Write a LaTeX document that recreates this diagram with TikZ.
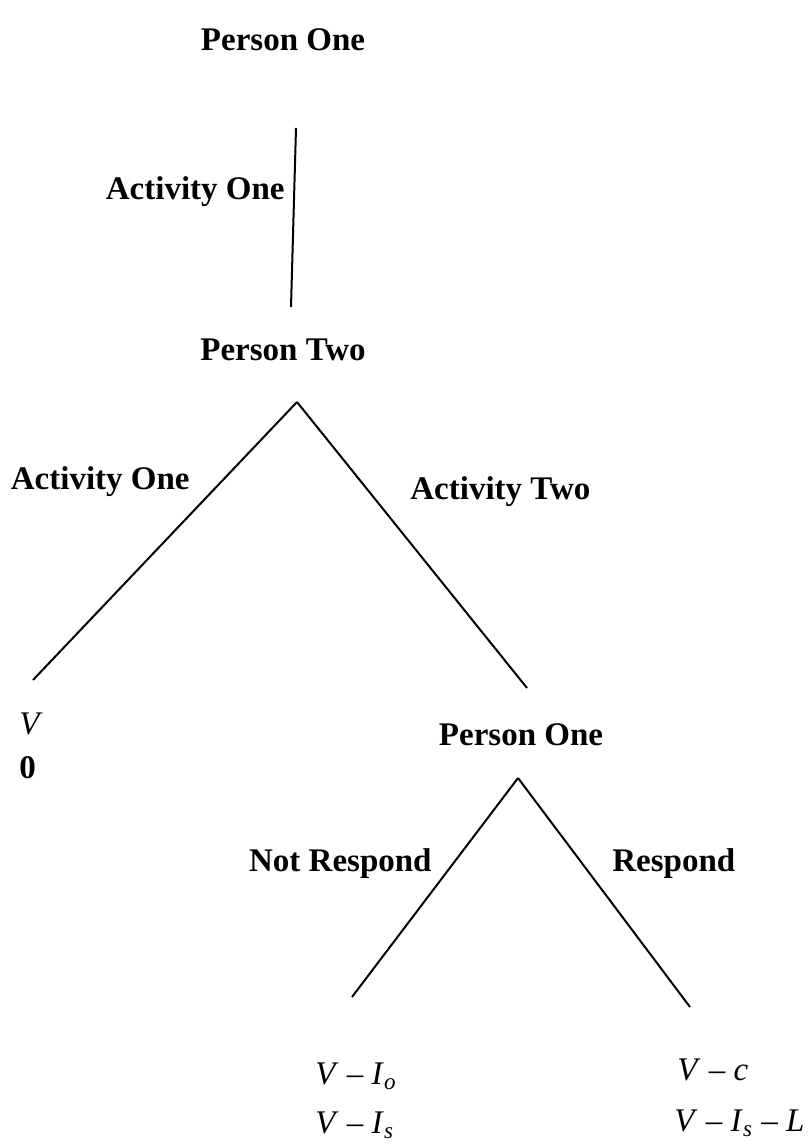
\documentclass[tikz,border=0pt]{standalone}
\usepackage{fontspec}
\setmainfont{Liberation Serif}
\begin{document}
\begin{tikzpicture}[x=0.5pt,y=-0.5pt,
  lbl/.style={font=\fontsize{16.5}{18}\selectfont\bfseries, inner sep=0pt},
  pay/.style={font=\fontsize{16.5}{18}\selectfont, inner sep=0pt, anchor=base west},
  branch/.style={line width=1pt}]
\useasboundingbox (0,0) rectangle (810,1144);
% decision nodes
\node[lbl] (p1) at (283,40) {Person One};
\node[lbl] (p2) at (283,350) {Person Two};
\node[lbl] (p3) at (521,735) {Person One};
% branch points
\coordinate (c1) at (296,128);
\coordinate (c2) at (291,307);
\coordinate (n2) at (297,402);
\coordinate (l1) at (33,680);
\coordinate (r1) at (527,688);
\coordinate (n3) at (518,778);
\coordinate (l2) at (352,997);
\coordinate (r2) at (690,1007);
% branches
\draw[branch] (c1) -- (c2);
\draw[branch] (n2) -- (l1);
\draw[branch] (n2) -- (r1);
\draw[branch] (n3) -- (l2);
\draw[branch] (n3) -- (r2);
% branch labels
\node[lbl, anchor=east] (a1) at (285,192) {Activity One};
\node[lbl, anchor=east] (a2) at (190,482) {Activity One};
\node[lbl, anchor=west] (a3) at (410,492) {Activity Two};
\node[lbl, anchor=east] (nr) at (432,864) {Not Respond};
\node[lbl, anchor=west] (rs) at (612,864) {Respond};
% payoffs
\node[pay] (v1) at (19,734) {\textit{V}};
\node[pay] (v2) at (19,778) {\textbf{0}};
\node[pay] (w1) at (315,1084) {\textit{V} – \textit{I}\textsubscript{\textit{o}}};
\node[pay] (w2) at (315,1133) {\textit{V} – \textit{I}\textsubscript{\textit{s}}};
\node[pay] (x1) at (677,1080) {\textit{V} – \textit{c}};
\node[pay] (x2) at (674,1131) {\textit{V} – \textit{I}\textsubscript{\textit{s}} – \textit{L}};
\end{tikzpicture}
\end{document}
